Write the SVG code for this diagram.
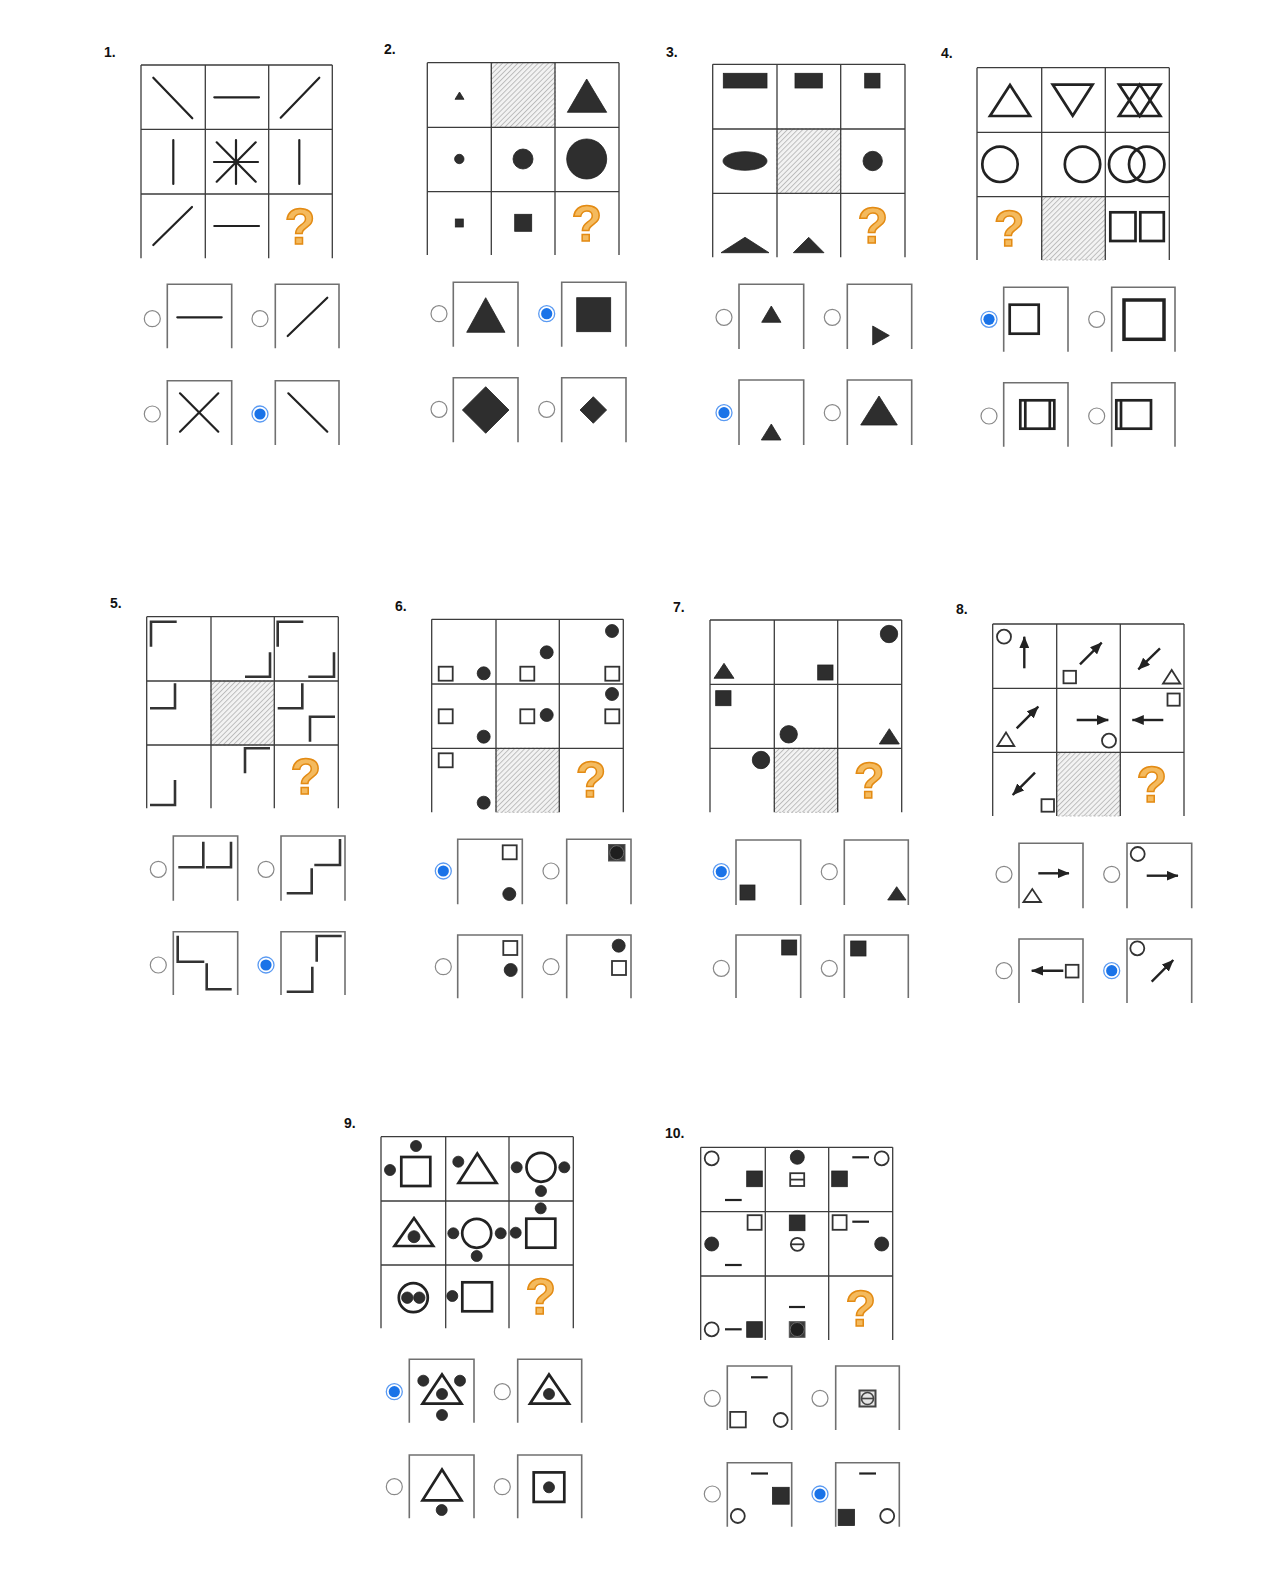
<svg xmlns="http://www.w3.org/2000/svg" xmlns:xlink="http://www.w3.org/1999/xlink" width="1280" height="1595" viewBox="0 0 1280 1595">
<style>
.g{fill:none;stroke:#3c3c3c;stroke-width:1.3}
.b{fill:none;stroke:#707070;stroke-width:1.6}
.l{fill:none;stroke:#222;stroke-width:2.2;stroke-linecap:round}
.c{fill:none;stroke:#333;stroke-width:2.6;stroke-linejoin:miter}
.k{fill:#2e2e2e;stroke:#222;stroke-width:0.8}
.o{fill:none;stroke:#222;stroke-width:2.7;stroke-linejoin:miter}
.t{fill:none;stroke:#333;stroke-width:1.8}
.a{fill:none;stroke:#222;stroke-width:2.4;marker-end:url(#ah)}
.h{fill:url(#hatch);stroke:#bbb;stroke-width:1;stroke-dasharray:2 2}
.lbl{font-family:"Liberation Sans",Arial,sans-serif;font-weight:bold;font-size:14px;fill:#111}
.qm{font-family:"Liberation Sans",Arial,sans-serif;font-weight:bold;font-size:50px;fill:#F4BA5E;stroke:#E38B14;stroke-width:1.5;text-anchor:middle}
</style>
<defs>
<pattern id="hatch" patternUnits="userSpaceOnUse" width="3.6" height="3.6" patternTransform="rotate(45)">
<rect width="3.6" height="3.6" fill="#f3f3f3"/>
<line x1="0.5" y1="0" x2="0.5" y2="3.6" stroke="#b8b8b8" stroke-width="0.9"/>
</pattern>
<marker id="ah" viewBox="0 0 12 10" refX="11.5" refY="5" markerWidth="12" markerHeight="10" markerUnits="userSpaceOnUse" orient="auto">
<path d="M0,0 L12,5 L0,10 Z" fill="#222"/>
</marker>
<g id="rad"><circle r="8" fill="#fff" stroke="#888" stroke-width="1.2"/></g>
<g id="radS"><circle r="8" fill="#fff" stroke="#5a9af2" stroke-width="1.3"/><circle r="5.6" fill="#1a73e8"/></g>
</defs>
<rect width="1280" height="1595" fill="#fff"/>
<g id="connectors"/>

<g id="puzzle1">
<text class="lbl" x="104" y="57">1.</text>
<path class="g" d="M141,65H332.3M141,129.3H332.3M141,194H332.3M141,65V258.3M205.3,65V258.3M268.7,65V258.3M332.3,65V258.3"/>
<line class="l" x1="153.3" y1="77.7" x2="192.3" y2="118.3"/>
<line class="l" x1="214.3" y1="97.3" x2="259" y2="97.3"/>
<line class="l" x1="280.7" y1="117.7" x2="319.3" y2="77.7"/>
<line class="l" x1="173.3" y1="140" x2="173.3" y2="184"/>
<path class="l" d="M214,162H258M236,140V184M216.7,142.3L255.7,181.7M255.7,142.3L216.7,181.7"/>
<line class="l" x1="299.3" y1="140" x2="299.3" y2="184"/>
<line class="l" x1="153.3" y1="245" x2="192" y2="207"/>
<line class="l" x1="214.3" y1="226" x2="259" y2="226"/>
<text class="qm" x="300" y="244">?</text>
<g id="p1-options">
<path class="b" d="M167.3,348.3V284.3H231.7V348.3M275.3,348.3V284.3H339V348.3M167.3,445V380.7H231.7V445M275.3,445V380.7H339V445"/>
<line class="l" x1="177.3" y1="317.3" x2="221.7" y2="317.3"/>
<line class="l" x1="287.7" y1="336" x2="327.3" y2="297.7"/>
<path class="l" d="M180,393.3L218.3,431.7M218.3,393.3L180,431.7"/>
<line class="l" x1="288.3" y1="393.3" x2="327.3" y2="431.7"/>
<use href="#rad" x="152.3" y="318.7"/><use href="#rad" x="260" y="318.7"/>
<use href="#rad" x="152.3" y="414"/><use href="#radS" x="260" y="414"/>
</g>
</g>

<g id="puzzle2">
<text class="lbl" x="384" y="53.5">2.</text>
<rect class="h" x="491.3" y="62.7" width="63.7" height="64.6"/>
<path class="g" d="M427.3,62.7H619M427.3,127.3H619M427.3,191.7H619M427.3,62.7V255M491.3,62.7V255M555,62.7V255M619,62.7V255"/>
<polygon class="k" points="455,99.3 464,99.3 459.5,92"/>
<polygon class="k" points="567.3,112.3 606.7,112.3 586.7,79"/>
<circle class="k" cx="459.3" cy="159" r="4.7"/>
<circle class="k" cx="523" cy="159" r="10"/>
<circle class="k" cx="586.7" cy="159" r="20"/>
<rect class="k" x="455.3" y="219" width="8" height="8"/>
<rect class="k" x="514.7" y="214.3" width="17" height="17"/>
<text class="qm" x="586.7" y="241">?</text>
<g id="p2-options">
<path class="b" d="M453.3,346.7V282.3H518V346.7M561.7,346.7V282.3H626V346.7M453.3,442.3V377.7H518V442.3M561.7,442.3V377.7H626V442.3"/>
<polygon class="k" points="466.7,332.3 505,332.3 485.7,297.7"/>
<rect class="k" x="576.7" y="297.7" width="34" height="34"/>
<polygon class="k" points="485.7,386.7 509,410 485.7,433.3 462.4,410"/>
<polygon class="k" points="593.3,396.7 606.6,410 593.3,423.3 580,410"/>
<use href="#rad" x="439" y="313.7"/><use href="#radS" x="546.7" y="313.7"/>
<use href="#rad" x="439" y="409.3"/><use href="#rad" x="546.7" y="409.3"/>
</g>
</g>

<g id="puzzle3">
<text class="lbl" x="666" y="57">3.</text>
<rect class="h" x="777" y="129" width="63.7" height="64.3"/>
<path class="g" d="M712.7,64.3H905M712.7,129H905M712.7,193.3H905M712.7,64.3V257.3M777,64.3V257.3M840.7,64.3V257.3M905,64.3V257.3"/>
<rect class="k" x="723.3" y="73.3" width="43.7" height="14.7"/>
<rect class="k" x="795" y="73.3" width="27.3" height="14.7"/>
<rect class="k" x="864.7" y="73.3" width="15.3" height="14.7"/>
<ellipse class="k" cx="745" cy="161" rx="22" ry="9.3"/>
<circle class="k" cx="872.7" cy="161" r="9.7"/>
<polygon class="k" points="721,252.7 769,252.7 745,237.3"/>
<polygon class="k" points="793.3,252.7 824,252.7 808.7,237.3"/>
<text class="qm" x="872.7" y="242.5">?</text>
<g id="p3-options">
<path class="b" d="M739,349V284.3H803.7V349M847.3,349V284.3H911.7V349M739,445V380H803.7V445M847.3,445V380H911.7V445"/>
<polygon class="k" points="761.7,322.3 781,322.3 771.3,306"/>
<polygon class="k" points="872.7,326 872.7,345 889.3,335.5"/>
<polygon class="k" points="761.3,440 781,440 771.3,424"/>
<polygon class="k" points="860.7,425 897.3,425 879,396"/>
<use href="#rad" x="724" y="317.3"/><use href="#rad" x="832.3" y="317.3"/>
<use href="#radS" x="724" y="412.7"/><use href="#rad" x="832.3" y="412.7"/>
</g>
</g>

<g id="puzzle4">
<text class="lbl" x="941" y="58">4.</text>
<rect class="h" x="1041.7" y="196.7" width="63.6" height="63.3"/>
<path class="g" d="M977,67.7H1169.3M977,132.3H1169.3M977,196.7H1169.3M977,67.7V260M1041.7,67.7V260M1105.3,67.7V260M1169.3,67.7V260"/>
<polygon class="o" points="990,116 1030,116 1010,85"/>
<polygon class="o" points="1052.7,84.6 1092.6,84.6 1072.7,115.8"/>
<polygon class="o" points="1119,84.6 1160.4,84.6 1139.7,116"/>
<polygon class="o" points="1119,116 1160.4,116 1139.7,84.6"/>
<circle class="o" cx="1000" cy="164.3" r="17.7"/>
<circle class="o" cx="1082.5" cy="164.3" r="17.7"/>
<circle class="o" cx="1126.7" cy="164.3" r="17.7"/>
<circle class="o" cx="1146.7" cy="164.3" r="17.7"/>
<rect class="o" x="1110.3" y="212.3" width="25.2" height="28.7"/>
<rect class="o" x="1140.3" y="212.3" width="23.5" height="28.7"/>
<text class="qm" x="1009.3" y="246">?</text>
<g id="p4-options">
<path class="b" d="M1003.7,351.7V287.3H1068V351.7M1111.7,351.7V287.3H1175V351.7M1003.7,446.7V382.7H1068V446.7M1111.7,446.7V382.7H1175V446.7"/>
<rect class="o" x="1009.7" y="304.7" width="29" height="29"/>
<rect class="o" x="1124" y="300" width="40" height="39.3" style="stroke-width:3.5"/>
<rect class="o" x="1020.3" y="400.3" width="34" height="28.4"/>
<path class="o" d="M1025.3,400.3V428.7M1049.8,400.3V428.7"/>
<rect class="o" x="1116.3" y="400.3" width="34.7" height="28.4"/>
<path class="o" d="M1121,400.3V428.7"/>
<use href="#radS" x="989" y="319.3"/><use href="#rad" x="1096.7" y="319.3"/>
<use href="#rad" x="989" y="416"/><use href="#rad" x="1096.7" y="416"/>
</g>
</g>

<g id="puzzle5">
<text class="lbl" x="110" y="608">5.</text>
<rect class="h" x="211" y="681" width="63.3" height="64"/>
<path class="g" d="M146.7,616.7H338.3M146.7,681H338.3M146.7,745H338.3M146.7,616.7V808.3M211,616.7V808.3M274.3,616.7V808.3M338.3,616.7V808.3"/>
<polyline class="c" points="151,646.7 151,621.7 176.7,621.7"/>
<polyline class="c" points="245,676.7 270,676.7 270,652.3"/>
<polyline class="c" points="277.7,646.7 277.7,621.7 303.3,621.7"/>
<polyline class="c" points="308.3,676.7 334,676.7 334,652.3"/>
<polyline class="c" points="150,708.3 175,708.3 175,683.3"/>
<polyline class="c" points="277.7,708.3 302.3,708.3 302.3,683.3"/>
<polyline class="c" points="310,741.7 310,716.7 335,716.7"/>
<polyline class="c" points="150,805 175,805 175,780"/>
<polyline class="c" points="245,773.3 245,748.3 270,748.3"/>
<text class="qm" x="305.7" y="794.2">?</text>
<g id="p5-options">
<path class="b" d="M173.3,900.7V836H237.7V900.7M281,900.7V836H345V900.7M173.3,995V931.7H237.7V995M281,995V931.7H345V995"/>
<polyline class="c" points="178.3,867.3 203.3,867.3 203.3,841.7"/>
<polyline class="c" points="206,867.3 231,867.3 231,841.7"/>
<polyline class="c" points="314.3,865 340,865 340,839"/>
<polyline class="c" points="286.7,893.3 311.7,893.3 311.7,868.3"/>
<polyline class="c" points="177.7,935.7 177.7,961.7 204.3,961.7"/>
<polyline class="c" points="206.7,963.3 206.7,989.3 231.7,989.3"/>
<polyline class="c" points="316.7,961.7 316.7,936 341.7,936"/>
<polyline class="c" points="286.7,991.7 312.3,991.7 312.3,966.7"/>
<use href="#rad" x="158.3" y="869.3"/><use href="#rad" x="266" y="869.3"/>
<use href="#rad" x="158.3" y="965"/><use href="#radS" x="266" y="965"/>
</g>
</g>

<g id="puzzle6">
<text class="lbl" x="395" y="611">6.</text>
<rect class="h" x="496" y="748.3" width="63.3" height="64"/>
<path class="g" d="M431.7,619.3H623.3M431.7,684H623.3M431.7,748.3H623.3M431.7,619.3V812.3M496,619.3V812.3M559.3,619.3V812.3M623.3,619.3V812.3"/>
<rect class="t" x="438.7" y="666.7" width="14" height="14"/>
<circle class="k" cx="483.7" cy="673.3" r="6.5"/>
<circle class="k" cx="546.7" cy="652.3" r="6.5"/>
<rect class="t" x="520.3" y="666.7" width="14" height="14"/>
<circle class="k" cx="612" cy="631" r="6.5"/>
<rect class="t" x="605.3" y="666.7" width="14" height="14"/>
<rect class="t" x="438.7" y="709.3" width="14" height="14"/>
<circle class="k" cx="483.7" cy="736.7" r="6.5"/>
<rect class="t" x="520.3" y="709.3" width="14" height="14"/>
<circle class="k" cx="546.7" cy="715" r="6.5"/>
<circle class="k" cx="612" cy="694" r="6.5"/>
<rect class="t" x="605.3" y="709.3" width="14" height="14"/>
<rect class="t" x="438.7" y="753.3" width="14" height="14"/>
<circle class="k" cx="483.7" cy="802.7" r="6.5"/>
<text class="qm" x="591" y="796.5">?</text>
<g id="p6-options">
<path class="b" d="M457.7,904.3V839.3H522.3V904.3M566.7,904.3V839.3H631V904.3M457.7,998.3V935H522.3V998.3M566.7,998.3V935H631V998.3"/>
<rect class="t" x="502.7" y="845.3" width="14" height="14"/>
<circle class="k" cx="509.3" cy="894" r="6.5"/>
<rect x="608.5" y="844.5" width="16.5" height="16.5" fill="#3a3a3a" stroke="#555" stroke-width="1"/>
<circle cx="616.7" cy="852.7" r="7" fill="#1f1f1f" stroke="#777" stroke-width="0.8"/>
<rect class="t" x="503.3" y="941" width="14" height="14"/>
<circle class="k" cx="510.7" cy="970" r="6.5"/>
<circle class="k" cx="618.7" cy="945.7" r="6.5"/>
<rect class="t" x="612" y="961" width="14" height="14"/>
<use href="#radS" x="443.3" y="871"/><use href="#rad" x="551" y="871"/>
<use href="#rad" x="443.3" y="966.7"/><use href="#rad" x="551" y="966.7"/>
</g>
</g>

<g id="puzzle7">
<text class="lbl" x="673" y="611.7">7.</text>
<rect class="h" x="774.3" y="748.3" width="63.4" height="64"/>
<path class="g" d="M710,620H901.7M710,684.3H901.7M710,748.3H901.7M710,620V812.3M774.3,620V812.3M837.7,620V812.3M901.7,620V812.3"/>
<polygon class="k" points="714,678.3 734,678.3 724,663.3"/>
<rect class="k" x="817.7" y="665" width="15.3" height="15"/>
<circle class="k" cx="889" cy="634" r="8.7"/>
<rect class="k" x="715.7" y="690.7" width="15.3" height="15"/>
<circle class="k" cx="788.7" cy="734.3" r="8.7"/>
<polygon class="k" points="879.3,744 899.3,744 889.3,728.7"/>
<circle class="k" cx="761" cy="760" r="8.7"/>
<text class="qm" x="869.3" y="798.2">?</text>
<g id="p7-options">
<path class="b" d="M736,905V840H800.7V905M844.3,905V840H908.3V905M736,998V935H800.7V998M844.3,998V935H908.3V998"/>
<rect class="k" x="740" y="885" width="15" height="15"/>
<polygon class="k" points="887.7,900 906,900 896.7,886.7"/>
<rect class="k" x="781.7" y="940" width="15" height="15"/>
<rect class="k" x="850.7" y="941" width="15.3" height="15"/>
<use href="#radS" x="721.3" y="871.7"/><use href="#rad" x="829.3" y="871.7"/>
<use href="#rad" x="721.3" y="968.3"/><use href="#rad" x="829.3" y="968.3"/>
</g>
</g>

<g id="puzzle8">
<text class="lbl" x="956" y="614.3">8.</text>
<rect class="h" x="1056.7" y="752.3" width="63.6" height="63.7"/>
<path class="g" d="M992.7,624H1184M992.7,688.3H1184M992.7,752.3H1184M992.7,624V816M1056.7,624V816M1120.3,624V816M1184,624V816"/>
<circle class="t" cx="1004" cy="636.7" r="7"/>
<line class="a" x1="1024.3" y1="668.3" x2="1024.3" y2="636.7"/>
<rect class="t" x="1063.5" y="670.8" width="12.5" height="12.5"/>
<line class="a" x1="1080" y1="664.3" x2="1101.7" y2="642.7"/>
<line class="a" x1="1160" y1="648.3" x2="1138.3" y2="669.3"/>
<polygon class="t" points="1163,683.5 1180.3,683.5 1171.7,670"/>
<polygon class="t" points="997.4,746 1014.3,746 1006,732.4"/>
<line class="a" x1="1016.7" y1="728.3" x2="1038.3" y2="706.7"/>
<line class="a" x1="1076.7" y1="720" x2="1108.3" y2="720"/>
<circle class="t" cx="1109" cy="740.7" r="7"/>
<rect class="t" x="1167.5" y="693.5" width="12.2" height="12.2"/>
<line class="a" x1="1163.3" y1="720" x2="1132.3" y2="720"/>
<line class="a" x1="1035" y1="772.7" x2="1012.7" y2="795"/>
<rect class="t" x="1041.5" y="799.2" width="12.5" height="12.5"/>
<text class="qm" x="1151.7" y="801.5">?</text>
<g id="p8-options">
<path class="b" d="M1019,908.3V843.3H1083V908.3M1127,908.3V843.3H1191.7V908.3M1019,1003V939H1083V1003M1127,1003V939H1191.7V1003"/>
<line class="a" x1="1038.3" y1="873.3" x2="1069" y2="873.3"/>
<polygon class="t" points="1023.4,902 1041,902 1032.3,889"/>
<circle class="t" cx="1137.7" cy="854" r="7"/>
<line class="a" x1="1146.7" y1="875.7" x2="1178" y2="875.7"/>
<line class="a" x1="1063.3" y1="970.7" x2="1031.7" y2="970.7"/>
<rect class="t" x="1065.8" y="964.8" width="12.7" height="12.7"/>
<circle class="t" cx="1137.3" cy="948.3" r="7"/>
<line class="a" x1="1151.7" y1="981.7" x2="1173.3" y2="960"/>
<use href="#rad" x="1004" y="874.3"/><use href="#rad" x="1111.7" y="874.3"/>
<use href="#rad" x="1004" y="970.7"/><use href="#radS" x="1111.7" y="970.7"/>
</g>
</g>

<g id="puzzle9">
<text class="lbl" x="344" y="1128.3">9.</text>
<path class="g" d="M381,1136.7H573.3M381,1201H573.3M381,1265H573.3M381,1136.7V1328.3M445.7,1136.7V1328.3M509,1136.7V1328.3M573.3,1136.7V1328.3"/>
<circle class="k" cx="416" cy="1146" r="5.5"/>
<circle class="k" cx="390" cy="1170" r="5.5"/>
<rect class="o" x="401.3" y="1157" width="29" height="29"/>
<circle class="k" cx="458.3" cy="1161.7" r="5.5"/>
<polygon class="o" points="458.5,1183 496.5,1183 477.3,1153.5"/>
<circle class="o" cx="541" cy="1167.3" r="14.5"/>
<circle class="k" cx="516.7" cy="1167.3" r="5.5"/>
<circle class="k" cx="564.3" cy="1167.3" r="5.5"/>
<circle class="k" cx="541" cy="1191" r="5.5"/>
<polygon class="o" points="394.5,1246 433.2,1246 414,1218"/>
<circle class="k" cx="414" cy="1236.7" r="6"/>
<circle class="o" cx="476.7" cy="1233.3" r="14.5"/>
<circle class="k" cx="453.3" cy="1233.3" r="5.5"/>
<circle class="k" cx="500.7" cy="1233.3" r="5.5"/>
<circle class="k" cx="476.7" cy="1256" r="5.5"/>
<circle class="k" cx="540.7" cy="1208.3" r="5.5"/>
<circle class="k" cx="515.7" cy="1232.7" r="5.5"/>
<rect class="o" x="526.3" y="1218.7" width="29" height="29"/>
<circle class="o" cx="413.3" cy="1297.7" r="14.5"/>
<circle class="k" cx="407.3" cy="1297.7" r="5.7"/>
<circle class="k" cx="419.3" cy="1297.7" r="5.7"/>
<circle class="k" cx="452.3" cy="1296" r="5.5"/>
<rect class="o" x="462.3" y="1282.3" width="29.7" height="29"/>
<text class="qm" x="540.7" y="1314.2">?</text>
<g id="p9-options">
<path class="b" d="M409.3,1422.7V1359.3H474V1422.7M517.7,1422.7V1359.3H581.7V1422.7M409.3,1518.3V1455H474V1518.3M517.7,1518.3V1455H581.7V1518.3"/>
<polygon class="o" points="422.5,1403.7 461.5,1403.7 442,1374.5"/>
<circle class="k" cx="423.3" cy="1380.7" r="5.5"/>
<circle class="k" cx="460" cy="1380.7" r="5.5"/>
<circle class="k" cx="442" cy="1394" r="5.5"/>
<circle class="k" cx="442" cy="1415" r="5.5"/>
<polygon class="o" points="530,1403.7 569,1403.7 549,1374.5"/>
<circle class="k" cx="549" cy="1394" r="5.5"/>
<polygon class="o" points="422.5,1500.3 461.5,1500.3 442,1469.5"/>
<circle class="k" cx="441.7" cy="1510" r="5.5"/>
<rect class="o" x="533.7" y="1472.4" width="30.6" height="29.5"/>
<circle class="k" cx="549" cy="1487.3" r="5.5"/>
<use href="#radS" x="394.3" y="1391.7"/><use href="#rad" x="502.3" y="1391.7"/>
<use href="#rad" x="394.3" y="1486.7"/><use href="#rad" x="502.3" y="1486.7"/>
</g>
</g>

<g id="puzzle10">
<text class="lbl" x="665" y="1137.7">10.</text>
<path class="g" d="M700.7,1147.3H892.7M700.7,1211.7H892.7M700.7,1276H892.7M700.7,1147.3V1340M765.3,1147.3V1340M828.7,1147.3V1340M892.7,1147.3V1340"/>
<circle class="t" cx="711.7" cy="1158.3" r="7"/>
<rect class="k" x="746.7" y="1171" width="15.6" height="15.7"/>
<line class="l" x1="725" y1="1200" x2="741.7" y2="1200" style="stroke-linecap:butt"/>
<circle class="k" cx="797.3" cy="1157.3" r="7"/>
<rect class="t" x="790.2" y="1173.2" width="14" height="12.8"/>
<line class="t" x1="790.2" y1="1179.6" x2="804.2" y2="1179.6"/>
<line class="l" x1="852.3" y1="1157.3" x2="869" y2="1157.3" style="stroke-linecap:butt"/>
<circle class="t" cx="881.7" cy="1158.3" r="7"/>
<rect class="k" x="831.7" y="1171" width="15.6" height="15.7"/>
<rect class="t" x="747.6" y="1215.2" width="14" height="14.6"/>
<circle class="k" cx="711.7" cy="1244" r="7"/>
<line class="l" x1="725" y1="1265" x2="741.7" y2="1265" style="stroke-linecap:butt"/>
<rect class="k" x="789.3" y="1215" width="15.7" height="15.7"/>
<circle class="t" cx="797.3" cy="1244.3" r="6.5"/>
<line class="t" x1="790.8" y1="1244.3" x2="803.8" y2="1244.3"/>
<rect class="t" x="832.6" y="1215.2" width="14" height="14.6"/>
<line class="l" x1="852.3" y1="1221.7" x2="869" y2="1221.7" style="stroke-linecap:butt"/>
<circle class="k" cx="881.7" cy="1244" r="7"/>
<circle class="t" cx="711.7" cy="1329.3" r="7"/>
<line class="l" x1="725" y1="1329.3" x2="741.7" y2="1329.3" style="stroke-linecap:butt"/>
<rect class="k" x="746.7" y="1321.7" width="15.6" height="15.6"/>
<line class="l" x1="789" y1="1307" x2="805" y2="1307" style="stroke-linecap:butt"/>
<rect x="789.3" y="1321.7" width="15.7" height="15.6" fill="#3a3a3a" stroke="#555" stroke-width="1"/>
<circle cx="797.2" cy="1329.5" r="7" fill="#1f1f1f" stroke="#777" stroke-width="0.8"/>
<text class="qm" x="860.7" y="1325.8">?</text>
<g id="p10-options">
<path class="b" d="M727.3,1430V1366H791.7V1430M835.7,1430V1366H899.3V1430M727.3,1526.7V1462.7H791.7V1526.7M835.7,1526.7V1462.7H899.3V1526.7"/>
<line class="l" x1="751" y1="1377.3" x2="767.7" y2="1377.3" style="stroke-linecap:butt"/>
<rect class="t" x="730.2" y="1411.9" width="15.6" height="15.5"/>
<circle class="t" cx="780.7" cy="1420" r="7"/>
<rect x="859.5" y="1390.5" width="16" height="16" fill="#e6e6e6" stroke="#444" stroke-width="2"/>
<circle cx="867.5" cy="1398.5" r="6" fill="none" stroke="#444" stroke-width="1.6"/>
<line x1="861.5" y1="1398.5" x2="873.5" y2="1398.5" stroke="#444" stroke-width="1.6"/>
<line class="l" x1="751" y1="1473.5" x2="768" y2="1473.5" style="stroke-linecap:butt"/>
<rect class="k" x="772.5" y="1487.3" width="16.7" height="16.9"/>
<circle class="t" cx="737.8" cy="1516" r="7"/>
<line class="l" x1="859.2" y1="1473.5" x2="876" y2="1473.5" style="stroke-linecap:butt"/>
<rect class="k" x="838.2" y="1509.3" width="16.3" height="16.2"/>
<circle class="t" cx="887.2" cy="1516" r="7"/>
<use href="#rad" x="712.3" y="1398.3"/><use href="#rad" x="820" y="1398.3"/>
<use href="#rad" x="712.3" y="1494"/><use href="#radS" x="820" y="1494"/>
</g>
</g>
</svg>
